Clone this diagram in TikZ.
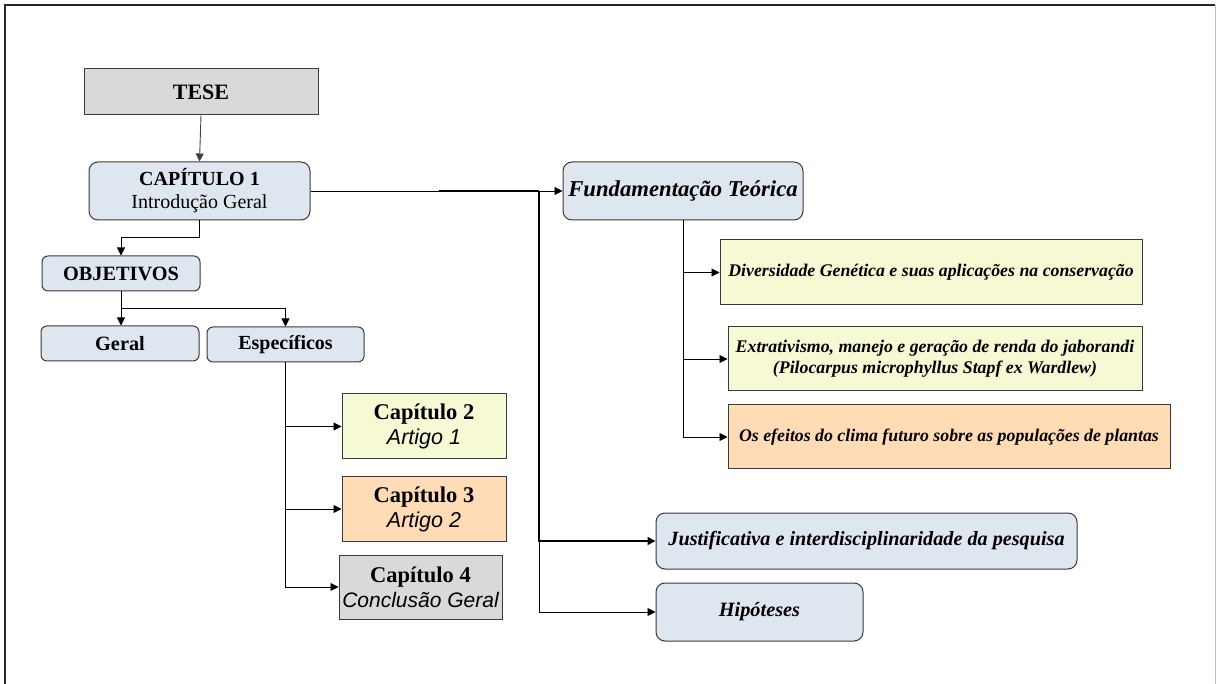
\documentclass[tikz,border=0pt]{standalone}
\usepackage{fontspec}
\setmainfont{Liberation Serif}
\newfontfamily\sansfam{Liberation Sans}
\usetikzlibrary{arrows.meta,calc}
\definecolor{bluebox}{HTML}{DEE6EF}
\definecolor{greybox}{HTML}{D9D9D9}
\definecolor{yelbox}{HTML}{F6F9D4}
\definecolor{orabox}{HTML}{FFDBB6}
\definecolor{edge}{HTML}{3A3A3A}
\tikzset{
  bx/.style={draw=edge, line width=1pt, inner sep=0pt, align=center, text=black},
  rbx/.style={bx, rounded corners=9pt, fill=bluebox},
  arr/.style={-{Triangle[length=8pt,width=8pt]}, line width=0.9pt, draw=black},
  ln/.style={line width=0.9pt, draw=black}
}
\begin{document}
\begin{tikzpicture}[x=1pt,y=-1pt]
\useasboundingbox (0,0) rectangle (1216,684);
% frame
\draw[line width=1.5pt, color=black!85] (5,684) -- (5,5) -- (1215,5);
\draw[line width=1pt, color=black!25] (1215,5) -- (1215,684);

% nodes
\node[bx, fill=greybox, minimum width=234pt, minimum height=46pt, font=\fontsize{22}{26}\selectfont\bfseries] (tese) at (201,92) {TESE};
\node[rbx, minimum width=221pt, minimum height=58pt, font=\fontsize{20}{23}\selectfont] (cap1) at (199.5,191) {\textbf{CAPÍTULO 1}\\Introdução Geral};
\node[rbx, rounded corners=6pt, minimum width=158pt, minimum height=35pt, font=\fontsize{20.3}{23}\selectfont\bfseries] (obj) at (121,273.5) {OBJETIVOS};
\node[rbx, rounded corners=6pt, minimum width=158pt, minimum height=35pt, font=\fontsize{20.3}{23}\selectfont\bfseries] (geral) at (120,343.5) {Geral};
\node[rbx, rounded corners=6pt, minimum width=157pt, minimum height=35pt, font=\fontsize{20}{23}\selectfont\bfseries] (espec) at (285.5,344.5) {Específicos};

\node[bx, fill=yelbox, minimum width=164pt, minimum height=65pt, font=\fontsize{22.5}{25}\selectfont] (cap2) at (424,426.5) {\textbf{Capítulo 2}\\{\sansfam\itshape\fontsize{21.5}{25}\selectfont Artigo 1}};
\node[bx, fill=orabox, minimum width=164pt, minimum height=64pt, font=\fontsize{22.5}{25}\selectfont] (cap3) at (424,509) {\textbf{Capítulo 3}\\{\sansfam\itshape\fontsize{21.5}{25}\selectfont Artigo 2}};
\node[bx, fill=greybox, minimum width=163pt, minimum height=64pt, font=\fontsize{22.5}{25}\selectfont] (cap4) at (420.5,587) {\textbf{Capítulo 4}\\{\sansfam\itshape\fontsize{21}{25}\selectfont Conclusão Geral}};

\node[rbx, minimum width=240pt, minimum height=58pt, font=\fontsize{22.7}{26}\selectfont\bfseries\itshape] (fund) at (683,191) {Fundamentação Teórica};
\node[bx, fill=yelbox, minimum width=422pt, minimum height=65pt, font=\fontsize{17.8}{20}\selectfont\bfseries\itshape] (d1) at (931,272.5) {Diversidade Genética e suas aplicações na conservação};
\node[bx, fill=yelbox, minimum width=414pt, minimum height=64pt, font=\fontsize{17.8}{21}\selectfont\bfseries\itshape] (d2) at (935,359) {Extrativismo, manejo e geração de renda do jaborandi\\(Pilocarpus microphyllus Stapf ex Wardlew)};
\node[bx, fill=orabox, minimum width=442pt, minimum height=64pt, font=\fontsize{17.8}{20}\selectfont\bfseries\itshape] (d3) at (949,437) {Os efeitos do clima futuro sobre as populações de plantas};

\node[rbx, minimum width=421pt, minimum height=56pt, font=\fontsize{20.2}{23}\selectfont\bfseries\itshape] (just) at (866.5,541) {Justificativa e interdisciplinaridade da pesquisa};
\node[rbx, minimum width=207pt, minimum height=58pt, font=\fontsize{20.3}{23}\selectfont\bfseries\itshape] (hip) at (759.5,612) {Hipóteses};

% connectors
\draw[arr, draw=black!75] (tese.south) -- (cap1.north);
\draw[arr] (cap1.south) -- ++(0,17) -| (obj.north);
\draw[arr] (obj.south) -- (obj.south |- geral.north);
\draw[arr] (obj.south) -- ++(0,17) -| (espec.north);
\draw[arr] (espec.south) |- (cap2.west);
\draw[arr] (espec.south) |- (cap3.west);
\draw[arr] (espec.south) |- (cap4.west);

\draw[arr] (cap1.east) -- (fund.west);
\coordinate (js) at (439,191);
\coordinate (jn) at (539,191);
\draw[line width=1.8pt] (js) -- (jn);
\draw[arr, line width=1.6pt] (jn) |- (just.west);
\draw[arr] (jn) |- (hip.west);

\draw[arr] (fund.south) |- (d1.west);
\draw[arr] (fund.south) |- (d2.west);
\draw[arr] (fund.south) |- (d3.west);
\end{tikzpicture}
\end{document}
